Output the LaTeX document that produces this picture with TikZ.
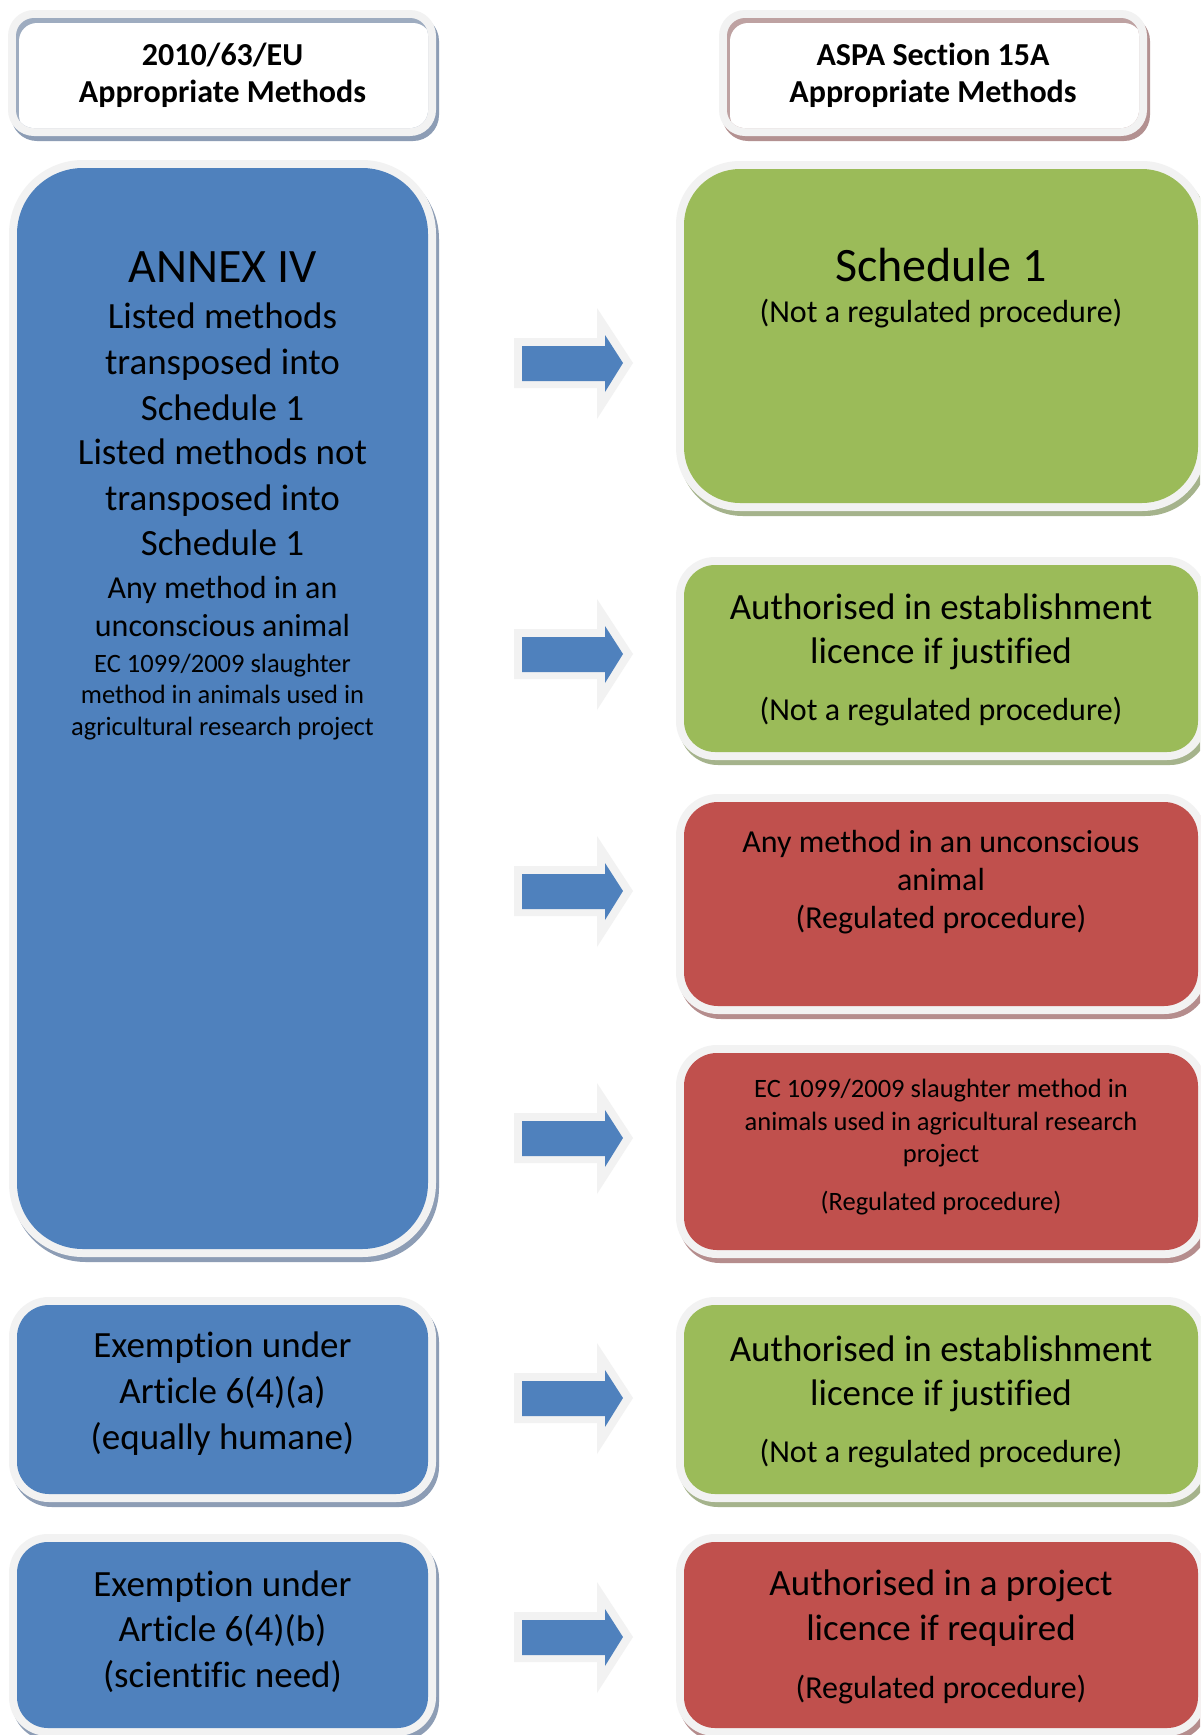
\documentclass[tikz,border=0pt]{standalone}
\usepackage{fontspec}
\setmainfont{Carlito}[Ligatures={NoCommon}]
\usetikzlibrary{calc}
\definecolor{cblue}{HTML}{4F81BD}
\definecolor{cgreen}{HTML}{9BBB59}
\definecolor{cred}{HTML}{C0504D}
\definecolor{ringc}{HTML}{F2F2F2}
\definecolor{shblue}{HTML}{8D9DB5}
\definecolor{shgreen}{HTML}{A5B38C}
\definecolor{shred}{HTML}{B58D8D}
\definecolor{shrose}{HTML}{B39191}
\newcommand\fsz[1]{\fontsize{#1pt}{#1pt}\selectfont}
\tikzset{
  lbl/.style={anchor=base, inner sep=0pt, outer sep=0pt, text=black},
  boxnode/.style={inner sep=0pt, outer sep=0pt, anchor=north west}
}
% colored box: name, x1, y1, x2, y2, radius, fill, shadow
\newcommand\ebox[8]{%
  \pgfmathsetmacro\rr{#6+8}%
  \pgfmathsetmacro\ww{#4-#2}%
  \pgfmathsetmacro\hh{#5-#3}%
  \fill[#8, rounded corners=\rr pt] (#2-5,#3-3) rectangle (#4+11,#5+13);
  \fill[ringc, rounded corners=\rr pt] (#2-8,#3-8) rectangle (#4+8,#5+8);
  \node[boxnode, fill=#7, rounded corners=#6pt, minimum width=\ww pt, minimum height=\hh pt] (#1) at (#2,#3) {};
}
% header box: name, x1, y1, x2, y2, shade
\newcommand\hdrbox[6]{%
  \pgfmathsetmacro\ww{#4-#2}%
  \pgfmathsetmacro\hh{#5-#3}%
  \fill[#6, rounded corners=26pt] (#2-5,#3-3) rectangle (#4+11,#5+13);
  \fill[ringc, rounded corners=26pt] (#2-8,#3-8) rectangle (#4+8,#5+8);
  \node[boxnode, fill=#6!85!white, rounded corners=18pt, minimum width=\ww pt, minimum height=\hh pt] (#1) at (#2,#3) {};
  \begin{scope}
    \clip[rounded corners=18pt] (#2,#3) rectangle (#4,#5);
    \fill[white, rounded corners=18pt] (#2+3,#3+5) rectangle (#4+3,#5+5);
  \end{scope}
}
% block arrow: name, centre y
\newcommand\harrow[2]{%
  \fill[ringc] (514,#2-25) -- (597,#2-25) -- (597,#2-55) -- (633,#2) -- (597,#2+56) -- (597,#2+25) -- (514,#2+25) -- cycle;
  \fill[cblue] (522,#2-17) -- (605,#2-17) -- (605,#2-28) -- (623,#2) -- (605,#2+29) -- (605,#2+18) -- (522,#2+18) -- cycle;
  \coordinate (#1) at (623,#2);
}
\begin{document}
\begin{tikzpicture}[x=1pt,y=-1pt]
\useasboundingbox (0,0) rectangle (1200,1735);
\clip (0,0) rectangle (1200,1735);
\fill[white] (0,0) rectangle (1200,1735);

% headers
\hdrbox{hl}{16}{18}{428}{128}{shblue}
\hdrbox{hr}{727}{18}{1139}{128}{shrose}
\node[lbl, font=\bfseries\fsz{32}] (hl1) at (222.5,65) {2010/63/EU};
\node[lbl, font=\bfseries\fsz{32}] (hl2) at (222.5,102) {Appropriate Methods};
\node[lbl, font=\bfseries\fsz{32}] (hr1) at (933,65) {ASPA Section 15A};
\node[lbl, font=\bfseries\fsz{32}] (hr2) at (933,102) {Appropriate Methods};

% left column
\ebox{annex}{17}{168}{428}{1249}{66}{cblue}{shblue}
\ebox{exa}{17}{1305}{428}{1494}{32}{cblue}{shblue}
\ebox{exb}{17}{1542}{428}{1728}{31}{cblue}{shblue}

% right column
\ebox{sch}{684}{169}{1198}{503}{56}{cgreen}{shgreen}
\ebox{estA}{684}{565}{1198}{752}{31}{cgreen}{shgreen}
\ebox{unc}{684}{802}{1198}{1006}{34}{cred}{shred}
\ebox{ec}{684}{1053}{1198}{1250}{33}{cred}{shred}
\ebox{estB}{684}{1305}{1198}{1494}{31}{cgreen}{shgreen}
\ebox{proj}{684}{1542}{1198}{1728}{31}{cred}{shred}

% arrows
\harrow{a1}{363}
\harrow{a2}{654}
\harrow{a3}{891}
\harrow{a4}{1138}
\harrow{a5}{1398}
\harrow{a6}{1637}

% left texts
\node[lbl, font=\fsz{48}] (t1) at (222.5,282) {ANNEX IV};
\node[lbl, font=\fsz{37}] (t2) at (222.5,328) {Listed methods};
\node[lbl, font=\fsz{37}] (t3) at (222.5,374) {transposed into};
\node[lbl, font=\fsz{37}] (t4) at (222.5,420) {Schedule 1};
\node[lbl, font=\fsz{37}] (t5) at (222.5,464) {Listed methods not};
\node[lbl, font=\fsz{37}] (t6) at (222.5,510) {transposed into};
\node[lbl, font=\fsz{37}] (t7) at (222.5,555) {Schedule 1};
\node[lbl, font=\fsz{32}] (t8) at (222.5,598) {Any method in an};
\node[lbl, font=\fsz{32}] (t9) at (222.5,636) {unconscious animal};
\node[lbl, font=\fsz{26.5}] (t10) at (222.5,672) {EC 1099/2009 slaughter};
\node[lbl, font=\fsz{26.5}] (t11) at (222.5,703) {method in animals used in};
\node[lbl, font=\fsz{26.5}] (t12) at (222.5,735) {agricultural research project};

\node[lbl, font=\fsz{37}] (e1) at (222.5,1357) {Exemption under};
\node[lbl, font=\fsz{37}] (e2) at (222.5,1403) {Article 6(4)(a)};
\node[lbl, font=\fsz{37}] (e3) at (222.5,1449) {(equally humane)};
\node[lbl, font=\fsz{37}] (f1) at (222.5,1596) {Exemption under};
\node[lbl, font=\fsz{37}] (f2) at (222.5,1641) {Article 6(4)(b)};
\node[lbl, font=\fsz{37}] (f3) at (222.5,1687) {(scientific need)};

% right texts
\node[lbl, font=\fsz{48}] (s1) at (941,281) {Schedule 1};
\node[lbl, font=\fsz{32}] (s2) at (941,322) {(Not a regulated procedure)};
\node[lbl, font=\fsz{37}] (g1) at (941,619) {Authorised in establishment};
\node[lbl, font=\fsz{37}] (g2) at (941,663) {licence if justified};
\node[lbl, font=\fsz{32}] (g3) at (941,720) {(Not a regulated procedure)};
\node[lbl, font=\fsz{32}] (r1) at (941,852) {Any method in an unconscious};
\node[lbl, font=\fsz{32}] (r2) at (941,890) {animal};
\node[lbl, font=\fsz{32}] (r3) at (941,928) {(Regulated procedure)};
\node[lbl, font=\fsz{26.5}] (q1) at (941,1097) {EC 1099/2009 slaughter method in};
\node[lbl, font=\fsz{26.5}] (q2) at (941,1130) {animals used in agricultural research};
\node[lbl, font=\fsz{26.5}] (q3) at (941,1162) {project};
\node[lbl, font=\fsz{26.5}] (q4) at (941,1210) {(Regulated procedure)};
\node[lbl, font=\fsz{37}] (h1) at (941,1361) {Authorised in establishment};
\node[lbl, font=\fsz{37}] (h2) at (941,1405) {licence if justified};
\node[lbl, font=\fsz{32}] (h3) at (941,1462) {(Not a regulated procedure)};
\node[lbl, font=\fsz{37}] (p1) at (941,1595) {Authorised in a project};
\node[lbl, font=\fsz{37}] (p2) at (941,1640) {licence if required};
\node[lbl, font=\fsz{32}] (p3) at (941,1698) {(Regulated procedure)};
\end{tikzpicture}
\end{document}
